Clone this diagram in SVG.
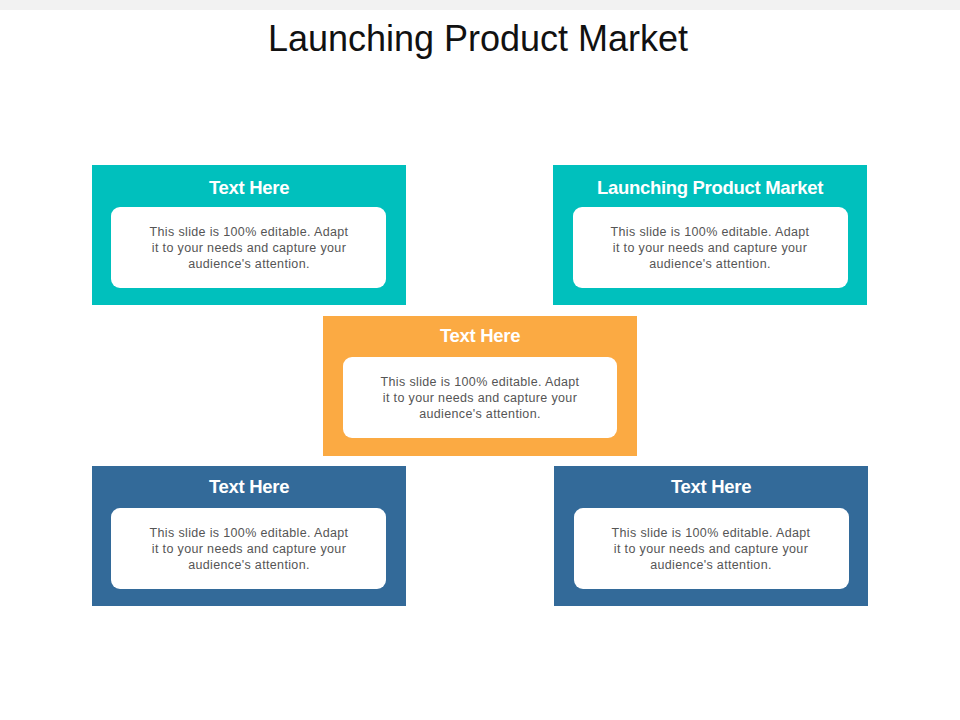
<svg xmlns="http://www.w3.org/2000/svg" width="960" height="720" viewBox="0 0 960 720">
<style>
.h{font-family:"Liberation Sans",Arial,sans-serif;font-weight:bold;font-size:18.5px;fill:#fff;text-anchor:middle;letter-spacing:-0.3px}
.b{font-family:"Liberation Sans",Arial,sans-serif;font-size:12.5px;fill:#555;text-anchor:middle;letter-spacing:0.35px}
.in{fill:#fff}
</style>
<rect width="960" height="720" fill="#fff"/>
<rect width="960" height="10" fill="#f2f2f2"/>
<text x="478" y="51" font-family="Liberation Sans,Arial,sans-serif" font-size="36" fill="#111" text-anchor="middle">Launching Product Market</text>
<g id="n1"><rect x="92" y="165" width="314" height="140" fill="#00c0bd"/><text class="h" x="249" y="194">Text Here</text><rect class="in" x="111" y="207" width="275" height="81" rx="9"/><text class="b" x="249" y="236">This slide is 100% editable. Adapt</text><text class="b" x="249" y="252">it to your needs and capture your</text><text class="b" x="249" y="268">audience's attention.</text></g>
<g id="n2"><rect x="553" y="165" width="314" height="140" fill="#00c0bd"/><text class="h" x="710" y="194">Launching Product Market</text><rect class="in" x="573" y="207" width="275" height="81" rx="9"/><text class="b" x="710" y="236">This slide is 100% editable. Adapt</text><text class="b" x="710" y="252">it to your needs and capture your</text><text class="b" x="710" y="268">audience's attention.</text></g>
<g id="n3"><rect x="323" y="316" width="314" height="140" fill="#fbaa43"/><text class="h" x="480" y="342">Text Here</text><rect class="in" x="343" y="357" width="274" height="81" rx="9"/><text class="b" x="480" y="386">This slide is 100% editable. Adapt</text><text class="b" x="480" y="402">it to your needs and capture your</text><text class="b" x="480" y="418">audience's attention.</text></g>
<g id="n4"><rect x="92" y="466" width="314" height="140" fill="#336a99"/><text class="h" x="249" y="493">Text Here</text><rect class="in" x="111" y="508" width="275" height="81" rx="9"/><text class="b" x="249" y="537">This slide is 100% editable. Adapt</text><text class="b" x="249" y="553">it to your needs and capture your</text><text class="b" x="249" y="569">audience's attention.</text></g>
<g id="n5"><rect x="554" y="466" width="314" height="140" fill="#336a99"/><text class="h" x="711" y="493">Text Here</text><rect class="in" x="574" y="508" width="275" height="81" rx="9"/><text class="b" x="711" y="537">This slide is 100% editable. Adapt</text><text class="b" x="711" y="553">it to your needs and capture your</text><text class="b" x="711" y="569">audience's attention.</text></g>
<g id="connectors"/>
</svg>
